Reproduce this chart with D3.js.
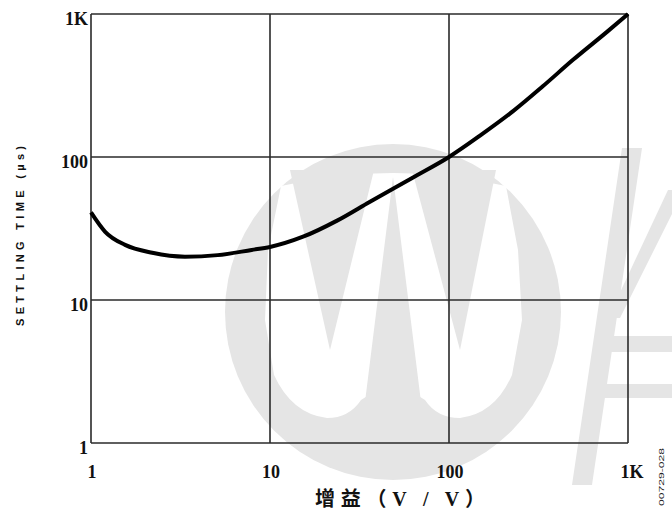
<!DOCTYPE html>
<html><head><meta charset="utf-8">
<script src="https://cdn.jsdelivr.net/npm/d3@7"></script>
<style>body{margin:0;background:#fff;}svg{display:block;}</style>
</head><body>
<script>
// Data
const gain = [1, 1.2, 1.55, 2.2, 3.35, 5.1, 7.9, 10, 15.3, 23.7, 36.2, 63, 100, 149, 229, 334, 493, 763, 1000];
const settlingTime = [41, 30, 24.3, 21.4, 20.1, 20.6, 22.4, 23.5, 27.7, 35.9, 48.7, 72, 100, 141, 210, 312, 478, 750, 1000];
const tickValues = [1, 10, 100, 1000];
const tickLabels = ["1", "10", "100", "1K"];
const yTitle = "SETTLING TIME (µs)";
const xTitle = "增益（V / V）";
const figId = "00729-028";

const W = 672, H = 516;
const svg = d3.select("body").append("svg").attr("width", W).attr("height", H);

// faint watermark approximation (background logo)
const wmGray = "#e5e5e5";
const wm = svg.append("g");
wm.append("circle").attr("cx", 393).attr("cy", 312).attr("r", 168).attr("fill", wmGray);
wm.append("path").attr("fill", "#fff")
  .attr("d", "M281,186 Q393,160 506,186 L518,250 L522,320 L512,375 Q495,414 460,418 Q437,418 425,400 L393,380 L361,400 Q349,418 327,418 Q292,414 274,375 L265,320 L268,250 Z");
wm.append("path").attr("fill", wmGray)
  .attr("d", "M290,170 L374,170 L330,350 Z M412,170 L496,170 L460,350 Z M393,177 L421,402 L365,402 Z");
wm.append("path").attr("fill", wmGray)
  .attr("d", "M622,148 L642,148 L592,485 L572,485 Z M668,190 L672,190 L672,214 L620,318 L608,318 Z M598,336 L672,336 L672,352 L596,352 Z M594,384 L672,384 L672,398 L592,398 Z");

const x = d3.scaleLog().domain([1, 1000]).range([91, 628]);
const y = d3.scaleLog().domain([1, 1000]).range([443, 14]);

// grid
const grid = svg.append("g").attr("stroke", "#2a2a2a").attr("stroke-width", 1.6);
grid.selectAll("line.v").data(tickValues).enter().append("line")
  .attr("x1", d => x(d)).attr("x2", d => x(d)).attr("y1", y(1000)).attr("y2", y(1));
grid.selectAll("line.h").data(tickValues).enter().append("line")
  .attr("x1", x(1)).attr("x2", x(1000)).attr("y1", d => y(d)).attr("y2", d => y(d));

// curve
const line = d3.line().x(d => x(d[0])).y(d => y(d[1])).curve(d3.curveMonotoneX);
svg.append("path").datum(gain.map((g, i) => [g, settlingTime[i]]))
  .attr("d", line).attr("fill", "none").attr("stroke", "#000").attr("stroke-width", 4)
  .attr("stroke-linejoin", "round");

const tickFont = "'Liberation Serif', 'Times New Roman', serif";
// y tick labels
svg.append("g").selectAll("text").data(tickValues).enter().append("text")
  .attr("x", 88).attr("y", d => y(d) + 11)
  .attr("text-anchor", "end").attr("font-family", tickFont).attr("font-weight", "bold")
  .attr("font-size", 18).attr("fill", "#111")
  .text((d, i) => tickLabels[i]);
// x tick labels
svg.append("g").selectAll("text").data(tickValues).enter().append("text")
  .attr("x", (d, i) => x(d) + (i === 3 ? 4 : 1)).attr("y", 478)
  .attr("text-anchor", "middle").attr("font-family", tickFont).attr("font-weight", "bold")
  .attr("font-size", 18).attr("fill", "#111")
  .text((d, i) => tickLabels[i]);

// y title
svg.append("text").attr("transform", "translate(24,236) rotate(-90)")
  .attr("text-anchor", "middle").attr("font-family", "'Liberation Sans', Arial, sans-serif")
  .attr("font-weight", "bold").attr("font-size", 11).attr("fill", "#111")
  .attr("textLength", 180).attr("lengthAdjust", "spacing")
  .text(yTitle);

// x title
svg.append("text").attr("x", 400).attr("y", 506)
  .attr("text-anchor", "middle").attr("font-family", "'Liberation Serif', 'Noto Sans CJK SC', serif")
  .attr("font-weight", "bold").attr("font-size", 20).attr("fill", "#111")
  .attr("textLength", 170).attr("lengthAdjust", "spacing")
  .text(xTitle);

// figure id
svg.append("text").attr("transform", "translate(664,477) rotate(-90)")
  .attr("text-anchor", "middle").attr("font-family", "'Liberation Sans', Arial, sans-serif")
  .attr("font-size", 7.5).attr("fill", "#222")
  .attr("textLength", 58).attr("lengthAdjust", "spacingAndGlyphs")
  .text(figId);
</script>
</body></html>
